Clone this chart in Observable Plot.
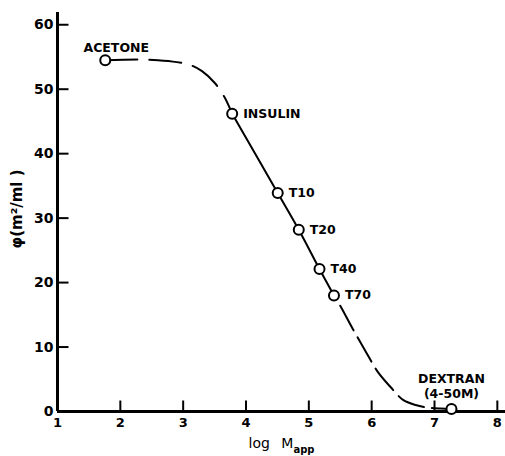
<!DOCTYPE html>
<html><head><meta charset="utf-8">
<script src="https://cdn.jsdelivr.net/npm/d3@7"></script>
<script src="https://cdn.jsdelivr.net/npm/@observablehq/plot@0.6"></script>
<style>
body{margin:0;background:#fff;}
</style></head><body><div id="chart"></div>
<script>
// Data points
const names = ["ACETONE", "INSULIN", "T10", "T20", "T40", "T70", "DEXTRAN\n(4-50M)"];
const logM  = [1.76, 3.78, 4.505, 4.84, 5.17, 5.40, 7.27];
const phi   = [54.5, 46.2, 33.9, 28.2, 22.1, 18.0, 0.4];

// Hand-drawn fitted curve (dashed parts)
const upperX = [1.76, 2.3, 2.6, 2.9, 3.1, 3.3, 3.5, 3.65, 3.78];
const upperY = [54.5, 54.6, 54.5, 54.2, 53.8, 52.8, 51.0, 48.9, 46.2];
const lowerX = [5.40, 5.5, 5.7, 5.9, 6.1, 6.3, 6.5, 6.7, 6.9, 7.1, 7.27];
const lowerY = [18.0, 16.4, 12.8, 9.4, 6.1, 3.8, 1.8, 1.0, 0.6, 0.45, 0.4];

// Axis ticks
const xTicks = [1, 2, 3, 4, 5, 6, 7, 8];
const yTicks = [0, 10, 20, 30, 40, 50, 60];

const W = 505, H = 456, ML = 57, MR = 0, MT = 12, MB = 45;
const xDomain = [1, 8.13], yDomain = [0, 61.9];
const TICK = 11; // inward tick length in px
const tickDX = TICK * (xDomain[1] - xDomain[0]) / (W - ML - MR);
const tickDY = TICK * (yDomain[1] - yDomain[0]) / (H - MT - MB);

const pts = names.map((n, i) => ({name: n, x: logM[i], y: phi[i]}));
const upper = upperX.map((x, i) => ({x, y: upperY[i]}));
const lower = lowerX.map((x, i) => ({x, y: lowerY[i]}));
const solid = pts.slice(1, 6);

const FONT = "DejaVu Sans";
const chart = Plot.plot({
  width: W, height: H,
  marginLeft: ML, marginRight: MR, marginTop: MT, marginBottom: MB,
  style: {fontFamily: FONT, background: "white", color: "black"},
  x: {domain: xDomain},
  y: {domain: yDomain},
  marks: [
    Plot.axisX(xTicks, {tickSize: 0, tickPadding: 6, fontSize: 13, fontWeight: "bold", label: null}),
    Plot.axisY(yTicks, {tickSize: 0, tickPadding: 4, fontSize: 14, fontWeight: "bold", label: null}),
    // inward ticks
    Plot.link(xTicks.slice(1), {x1: d => d, x2: d => d, y1: () => yDomain[0], y2: () => yDomain[0] + tickDY, stroke: "black", strokeWidth: 2}),
    Plot.link(yTicks.slice(1), {y1: d => d, y2: d => d, x1: () => xDomain[0], x2: () => xDomain[0] + tickDX, stroke: "black", strokeWidth: 2}),
    Plot.ruleY([0], {strokeWidth: 3}),
    Plot.ruleX([1], {strokeWidth: 3}),
    Plot.line(upper, {x: "x", y: "y", curve: "catmull-rom", strokeWidth: 2, strokeDasharray: "32,12"}),
    Plot.line(solid, {x: "x", y: "y", curve: "catmull-rom", strokeWidth: 2}),
    Plot.line(lower, {x: "x", y: "y", curve: "catmull-rom", strokeWidth: 2, strokeDasharray: "28,8", strokeDashoffset: 24}),
    Plot.dot(pts, {x: "x", y: "y", r: 5, stroke: "black", strokeWidth: 2, fill: "white"}),
    Plot.text(pts.slice(0, 1), {x: "x", y: "y", text: "name", dx: 11, dy: -12, textAnchor: "middle", fontSize: 12.5, fontWeight: "bold"}),
    Plot.text(pts.slice(1, 6), {x: "x", y: "y", text: "name", dx: 11, textAnchor: "start", fontSize: 12.5, fontWeight: "bold"}),
    Plot.text(pts.slice(6), {x: "x", y: "y", text: "name", dy: -23, textAnchor: "middle", lineHeight: 1.2, fontSize: 12.5, fontWeight: "bold"}),
    Plot.text(["φ(m²/ml )"], {frameAnchor: "left", textAnchor: "middle", rotate: -90, dx: -40, dy: -3, fontSize: 15, fontWeight: "bold"}),
    Plot.text(["log Mapp"], {frameAnchor: "bottom", textAnchor: "middle", dy: 36, fontSize: 14})
  ]
});

d3.select(chart).selectAll("text").filter(function () { return this.textContent === "log Mapp"; }).each(function () {
  const t = d3.select(this);
  t.text("log M").style("word-spacing", "7px");
  t.append("tspan").attr("font-size", 10).attr("font-weight", "bold").attr("dy", 5).text("app");
});

document.getElementById("chart").appendChild(chart);
</script></body></html>
